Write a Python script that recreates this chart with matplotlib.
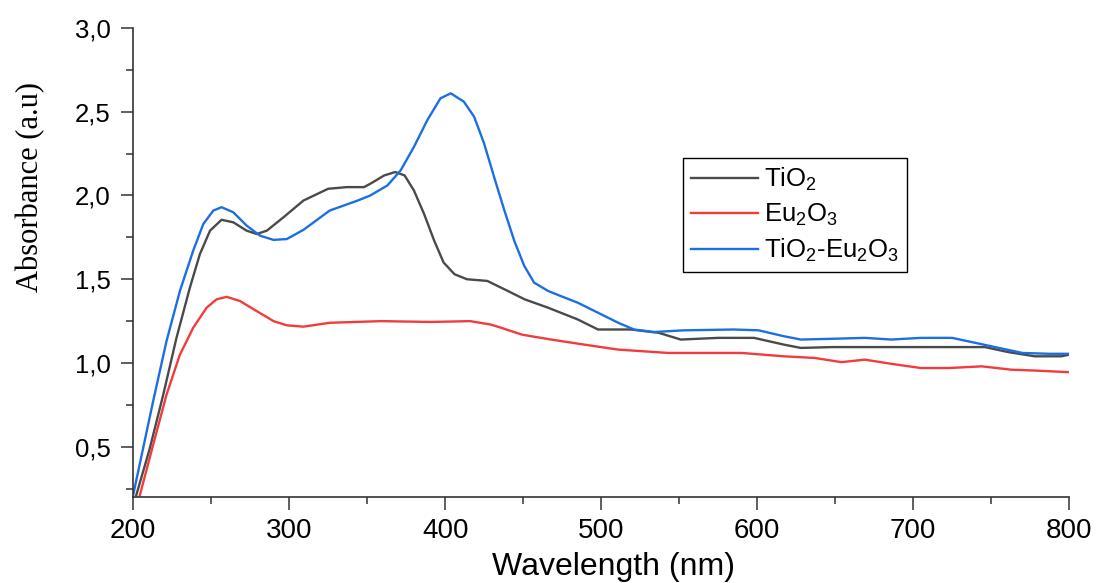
import matplotlib
matplotlib.use("Agg")
import matplotlib.pyplot as plt
from matplotlib.ticker import MultipleLocator, FuncFormatter

# ---- data ----
tio2_x = [202, 210.7, 219.3, 227.8, 236.4, 242.8, 249.3, 256.7, 264.2, 272.8, 279.2, 285.7,
          296.4, 309.2, 325, 337, 348, 352, 361, 368, 374, 380, 386.5, 393, 399, 406, 414,
          427, 438, 451, 466, 485, 498, 519, 537, 551, 575, 598, 617, 628, 648, 680, 723,
          746, 761, 778, 795, 800]
tio2_y = [0.21, 0.49, 0.81, 1.15, 1.45, 1.65, 1.79, 1.855, 1.84, 1.79, 1.77, 1.79,
          1.87, 1.97, 2.04, 2.05, 2.05, 2.07, 2.12, 2.14, 2.12, 2.03, 1.89, 1.73, 1.60, 1.53, 1.50,
          1.49, 1.44, 1.38, 1.33, 1.26, 1.20, 1.20, 1.18, 1.14, 1.15, 1.15, 1.11, 1.09, 1.095, 1.095, 1.095,
          1.095, 1.065, 1.04, 1.04, 1.05]

eu2o3_x = [204.3, 212.8, 221.4, 230, 238.5, 247.1, 253.5, 260, 268.5, 279.2, 290, 298.5,
           309.2, 326, 359, 391, 416, 429, 436, 449, 455, 468, 489, 511, 543, 590, 617,
           637, 654, 669, 686, 705, 723, 744, 763, 778, 800]
eu2o3_y = [0.21, 0.51, 0.81, 1.05, 1.21, 1.33, 1.38, 1.395, 1.37, 1.31, 1.25, 1.225,
           1.217, 1.24, 1.25, 1.245, 1.25, 1.23, 1.21, 1.17, 1.16, 1.14, 1.11, 1.08, 1.06, 1.06, 1.04,
           1.03, 1.005, 1.02, 0.995, 0.97, 0.97, 0.98, 0.96, 0.955, 0.945]

mix_x = [200, 206.4, 212.8, 221.4, 230, 238.5, 245, 251.4, 256.7, 264.2, 272.8, 281.4, 290,
         298.5, 309.2, 326, 344, 352, 363, 371.5, 380, 388.6, 397, 403.6, 412, 418.6, 425,
         431.4, 438, 444.3, 450.7, 457, 466, 474, 485, 498, 511, 521, 534, 553, 585, 601,
         617, 628, 650, 669, 686, 705, 725, 740, 755, 770, 787, 800]
mix_y = [0.21, 0.49, 0.77, 1.13, 1.43, 1.67, 1.83, 1.91, 1.93, 1.90, 1.82, 1.76, 1.735,
         1.74, 1.795, 1.91, 1.97, 2.00, 2.06, 2.15, 2.29, 2.45, 2.58, 2.61, 2.56, 2.47, 2.31,
         2.11, 1.91, 1.73, 1.58, 1.48, 1.43, 1.40, 1.36, 1.30, 1.24, 1.20, 1.185, 1.195, 1.20, 1.195,
         1.16, 1.14, 1.145, 1.15, 1.14, 1.15, 1.15, 1.12, 1.09, 1.06, 1.055, 1.055]

labels = ["TiO$_2$", "Eu$_2$O$_3$", "TiO$_2$-Eu$_2$O$_3$"]
colors = ["#4a4a4a", "#f23c3c", "#1c6fe3"]

x_ticks = [200, 300, 400, 500, 600, 700, 800]
y_ticks = [0.5, 1.0, 1.5, 2.0, 2.5, 3.0]

plt.rcParams["font.family"] = ["Liberation Sans", "DejaVu Sans"]
plt.rcParams["mathtext.default"] = "regular"

fig = plt.figure(figsize=(11, 5.83), dpi=100)
ax = fig.add_axes([0.121, 0.1475, 0.851, 0.8045])

for xs, ys, lab, c in zip([tio2_x, eu2o3_x, mix_x], [tio2_y, eu2o3_y, mix_y], labels, colors):
    ax.plot(xs, ys, color=c, lw=1.7, label=lab, solid_joinstyle="round")

ax.set_xlim(200, 800)
ax.set_ylim(0.2, 3.0)
ax.set_xticks(x_ticks)
ax.set_yticks(y_ticks)
ax.xaxis.set_minor_locator(MultipleLocator(50))
ax.yaxis.set_minor_locator(MultipleLocator(0.25))
ax.yaxis.set_major_formatter(FuncFormatter(lambda v, p: f"{v:.1f}".replace(".", ",")))

for s in ["top", "right"]:
    ax.spines[s].set_visible(False)
for s in ["left", "bottom"]:
    ax.spines[s].set_color("#333333")
    ax.spines[s].set_linewidth(1.2)

ax.tick_params(axis="both", which="major", direction="out", length=9, width=1.1, color="#333333")
ax.tick_params(axis="both", which="minor", direction="out", length=5, width=1.1, color="#333333")
ax.tick_params(axis="x", labelsize=20, pad=6)
ax.tick_params(axis="y", labelsize=18.5, pad=7)

ax.set_xlabel("Wavelength (nm)", fontsize=23)
ax.xaxis.label.set_va("center")
ax.xaxis.set_label_coords(0.513, -0.149)
ax.set_ylabel("Absorbance (a.u)", fontsize=22, family=["Liberation Serif", "DejaVu Serif"])
ax.yaxis.label.set_va("center")
ax.yaxis.set_label_coords(-0.11, 0.66)

leg = ax.legend(loc="upper left", bbox_to_anchor=(0.5876, 0.7228), borderaxespad=0,
                fontsize=18.5, frameon=True, fancybox=False, framealpha=1,
                edgecolor="black", handlelength=2.6, handletextpad=0.25,
                labelspacing=0.35, borderpad=0.3)
leg.get_frame().set_linewidth(1.0)

fig.savefig("out.png", dpi=100)
